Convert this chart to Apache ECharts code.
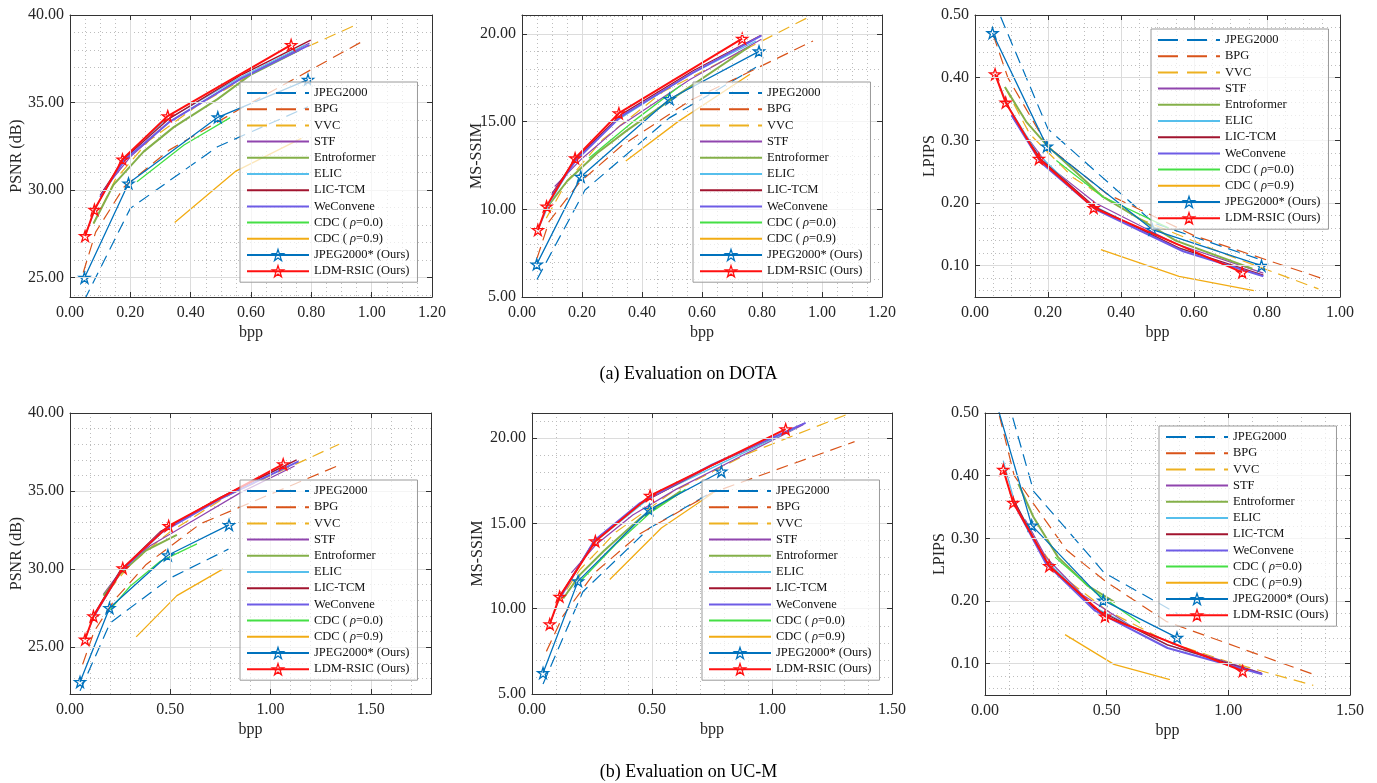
<!DOCTYPE html>
<html><head><meta charset="utf-8">
<script src="https://cdn.jsdelivr.net/npm/echarts@6/dist/echarts.min.js"></script>
<style>html,body{margin:0;padding:0;background:#fff}#c{width:1377px;height:783px}</style>
</head><body><div id="c"></div>
<script>
// ---------------- DATA ----------------
const SERIES_NAMES = ['JPEG2000','BPG','VVC','STF','Entroformer','ELIC','LIC-TCM','WeConvene','CDC (ρ=0.0)','CDC (ρ=0.9)','JPEG2000* (Ours)','LDM-RSIC (Ours)'];

// each panel: one [bpp, value] list per series, in SERIES_NAMES order
const DOTA_PSNR = [
  [[0.047,23.7],[0.200,28.96],[0.489,32.48],[0.789,34.76]],
  [[0.044,25.3],[0.085,27.6],[0.18,30.2],[0.33,32.3],[0.58,34.8],[0.97,38.5]],
  [[0.078,28.1],[0.15,30.6],[0.26,32.8],[0.42,34.8],[0.66,37.2],[0.956,39.5]],
  [[0.111,30.0],[0.2,31.9],[0.33,33.9],[0.56,36.3],[0.794,38.4]],
  [[0.078,28.1],[0.144,30.3],[0.244,32.2],[0.344,33.6],[0.489,35.2],[0.6,36.6],[0.76,38.0]],
  [[0.05,27.4],[0.088,29.1],[0.17,31.6],[0.31,33.9],[0.56,36.4],[0.78,38.3]],
  [[0.1,29.7],[0.18,31.8],[0.33,34.1],[0.57,36.6],[0.798,38.57]],
  [[0.1,29.6],[0.18,31.7],[0.33,33.9],[0.57,36.4],[0.794,38.3]],
  [[0.222,30.48],[0.378,32.58],[0.531,34.14]],
  [[0.347,28.16],[0.55,31.09],[0.767,32.96]],
  [[0.048,25.0],[0.194,30.39],[0.49,34.16],[0.789,36.31]],
  [[0.05,27.38],[0.081,28.88],[0.174,31.76],[0.324,34.23],[0.733,38.29]]
];
const DOTA_MSSSIM = [
  [[0.05,6.0],[0.21,11.1],[0.49,15.2],[0.78,18.1]],
  [[0.05,7.2],[0.09,9.3],[0.19,11.5],[0.33,13.6],[0.56,16.2],[0.97,19.6]],
  [[0.081,9.5],[0.15,11.6],[0.27,14.0],[0.47,16.7],[0.72,18.9],[0.96,21.0]],
  [[0.109,11.3],[0.2,12.9],[0.33,14.8],[0.56,17.4],[0.798,19.7]],
  [[0.087,10.2],[0.15,11.6],[0.25,13.2],[0.35,14.5],[0.5,16.3],[0.76,19.3]],
  [[0.053,8.8],[0.09,10.3],[0.17,12.6],[0.31,15.0],[0.55,17.6],[0.78,19.6]],
  [[0.1,10.9],[0.18,12.9],[0.33,15.4],[0.57,17.9],[0.798,19.94]],
  [[0.1,10.8],[0.18,12.8],[0.33,15.3],[0.57,17.8],[0.798,19.9]],
  [[0.223,12.91],[0.37,15.0],[0.531,17.09]],
  [[0.346,12.76],[0.52,15.0],[0.76,17.7]],
  [[0.049,6.86],[0.196,11.86],[0.492,16.29],[0.79,19.01]],
  [[0.053,8.82],[0.082,10.17],[0.177,12.91],[0.323,15.48],[0.734,19.73]]
];
const DOTA_LPIPS = [
  [[0.05,0.525],[0.2,0.318],[0.49,0.168],[0.79,0.108]],
  [[0.05,0.468],[0.09,0.40],[0.2,0.29],[0.36,0.215],[0.6,0.148],[0.959,0.078]],
  [[0.082,0.385],[0.15,0.31],[0.27,0.24],[0.45,0.175],[0.7,0.115],[0.941,0.063]],
  [[0.111,0.33],[0.2,0.26],[0.33,0.2],[0.55,0.135],[0.79,0.088]],
  [[0.082,0.385],[0.14,0.33],[0.2,0.29],[0.35,0.21],[0.55,0.14],[0.76,0.095]],
  [[0.055,0.405],[0.09,0.355],[0.17,0.28],[0.31,0.2],[0.55,0.13],[0.78,0.085]],
  [[0.1,0.34],[0.18,0.27],[0.33,0.193],[0.56,0.128],[0.79,0.085]],
  [[0.1,0.34],[0.18,0.265],[0.33,0.19],[0.57,0.123],[0.79,0.083]],
  [[0.223,0.268],[0.35,0.21],[0.531,0.16]],
  [[0.345,0.1256],[0.559,0.083],[0.764,0.06]],
  [[0.048,0.4712],[0.197,0.2904],[0.486,0.1576],[0.785,0.10]],
  [[0.055,0.4056],[0.084,0.3603],[0.175,0.2707],[0.325,0.1923],[0.732,0.0893]]
];
const UCM_PSNR = [
  [[0.05,22.2],[0.2,26.55],[0.5,29.43],[0.79,31.28]],
  [[0.063,23.9],[0.12,26.0],[0.22,28.0],[0.38,30.3],[0.65,32.9],[1.35,36.7]],
  [[0.1,26.5],[0.18,28.4],[0.3,30.3],[0.5,32.4],[0.8,34.8],[1.342,38.0]],
  [[0.167,28.4],[0.26,30.0],[0.4,31.5],[0.6,33.0],[0.85,34.9],[1.12,36.6]],
  [[0.167,28.3],[0.25,29.7],[0.38,31.2],[0.533,32.2]],
  [[0.075,25.5],[0.12,27.0],[0.26,30.0],[0.49,32.7],[0.8,34.9],[1.1,36.8]],
  [[0.12,27.1],[0.25,29.9],[0.45,32.4],[0.75,34.6],[1.13,37.0]],
  [[0.12,27.0],[0.25,29.8],[0.45,32.3],[0.75,34.5],[1.14,36.9]],
  [[0.2,27.4],[0.3,28.9],[0.45,30.5],[0.633,31.62]],
  [[0.33,25.66],[0.533,28.3],[0.762,30.0]],
  [[0.05,22.77],[0.197,27.51],[0.488,30.89],[0.793,32.83]],
  [[0.075,25.49],[0.117,26.98],[0.263,30.06],[0.492,32.77],[1.063,36.72]]
];
const UCM_MSSSIM = [
  [[0.046,5.58],[0.212,11.0],[0.49,14.74],[0.77,17.0]],
  [[0.06,7.5],[0.13,9.6],[0.26,12.1],[0.45,14.4],[0.75,16.8],[1.344,19.8]],
  [[0.1,10.2],[0.2,12.3],[0.35,14.5],[0.58,16.8],[0.9,19.1],[1.324,21.46]],
  [[0.164,12.1],[0.27,13.8],[0.42,15.5],[0.6,17.0],[0.85,18.8],[1.13,20.8]],
  [[0.13,10.6],[0.2,12.0],[0.3,13.4],[0.45,15.3],[0.62,16.9]],
  [[0.074,9.1],[0.12,10.8],[0.26,13.9],[0.49,16.5],[0.8,18.6],[1.1,20.6]],
  [[0.12,10.8],[0.26,14.0],[0.45,16.15],[0.75,18.4],[1.136,20.88]],
  [[0.12,10.7],[0.26,14.0],[0.45,16.2],[0.75,18.45],[1.14,20.9]],
  [[0.2,11.6],[0.35,13.8],[0.49,15.6],[0.64,17.0]],
  [[0.324,11.72],[0.539,14.74],[0.754,16.79]],
  [[0.046,6.23],[0.192,11.62],[0.489,15.81],[0.789,18.05]],
  [[0.074,9.09],[0.115,10.71],[0.264,13.96],[0.492,16.63],[1.057,20.53]]
];
const UCM_LPIPS = [
  [[0.05,0.58],[0.2,0.375],[0.49,0.245],[0.79,0.18]],
  [[0.059,0.496],[0.12,0.40],[0.2,0.355],[0.336,0.281],[0.5,0.23],[0.747,0.167],[1.349,0.083]],
  [[0.2,0.3],[0.3,0.245],[0.5,0.185],[0.75,0.135],[1.0,0.103],[1.349,0.0654]],
  [[0.165,0.33],[0.25,0.27],[0.4,0.21],[0.6,0.16],[0.85,0.12],[1.137,0.085]],
  [[0.137,0.387],[0.199,0.334],[0.3,0.27],[0.42,0.225],[0.534,0.198]],
  [[0.075,0.424],[0.12,0.36],[0.25,0.265],[0.45,0.19],[0.75,0.13],[1.1,0.088]],
  [[0.12,0.36],[0.25,0.262],[0.45,0.188],[0.75,0.13],[1.137,0.084]],
  [[0.12,0.355],[0.25,0.26],[0.45,0.185],[0.75,0.125],[1.14,0.083]],
  [[0.288,0.27],[0.45,0.215],[0.637,0.165]],
  [[0.329,0.1463],[0.53,0.0989],[0.76,0.0745]],
  [[0.046,0.517],[0.192,0.3207],[0.486,0.201],[0.789,0.1415]],
  [[0.075,0.4096],[0.116,0.357],[0.264,0.2559],[0.493,0.1755],[1.059,0.0883]]
];
const CAPTIONS = ['(a) Evaluation on DOTA', '(b) Evaluation on UC-M'];

// ---------------- STYLE / LAYOUT ----------------
const FONT = 'Liberation Serif';
const STAR = 'path://M50,2 L61.8,37.6 L99,37.6 L68.9,59.6 L80.4,95 L50,73.2 L19.6,95 L31.1,59.6 L1,37.6 L38.2,37.6 Z';
const STYLES = [
  {color:'#0072BD', width:1.2, dash:true},
  {color:'#D95319', width:1.2, dash:true},
  {color:'#EDB120', width:1.2, dash:true},
  {color:'#9045AE', width:1.2},
  {color:'#84B049', width:2},
  {color:'#56BFEC', width:1.2},
  {color:'#A2142F', width:1.3},
  {color:'#6E5CE6', width:2},
  {color:'#45DF45', width:1.3},
  {color:'#F2AC14', width:1.3},
  {color:'#0072BD', width:1.3, star:true},
  {color:'#FF1010', width:2, star:true}
];

const PANELS = [
  {data:DOTA_PSNR,   left:70,  top:15,  width:362, height:282, x:[0,1.2,0.2,0.05], y:[23.9,40,5,1],      yName:'PSNR (dB)', yGap:45, lg:[240,82]},
  {data:DOTA_MSSSIM, left:522, top:15,  width:360, height:282, x:[0,1.2,0.2,0.05], y:[5,21.08,5,1],      yName:'MS-SSIM',   yGap:37, lg:[693,82]},
  {data:DOTA_LPIPS,  left:975, top:15,  width:365, height:282, x:[0,1.0,0.2,0.05], y:[0.05,0.5,0.1,0.02], yName:'LPIPS',    yGap:37, lg:[1151,29]},
  {data:UCM_PSNR,    left:70,  top:413, width:361, height:281, x:[0,1.8,0.5,0.1],  y:[22,40,5,1],        yName:'PSNR (dB)', yGap:45, lg:[240,480]},
  {data:UCM_MSSSIM,  left:532, top:413, width:360, height:281, x:[0,1.5,0.5,0.1],  y:[5,21.48,5,1],      yName:'MS-SSIM',   yGap:46, lg:[702,480]},
  {data:UCM_LPIPS,   left:985, top:413, width:365, height:282, x:[0,1.5,0.5,0.1],  y:[0.05,0.5,0.1,0.02], yName:'LPIPS',    yGap:37, lg:[1159,426]}
];

const AX_COLOR = '#333333';
const isMult = (v, step) => Math.abs(v/step - Math.round(v/step)) < 1e-6;

const grid = [], xAxis = [], yAxis = [], series = [], legend = [];

PANELS.forEach((p, g) => {
  grid.push({left:p.left, top:p.top, width:p.width, height:p.height, containLabel:false, outerBoundsMode:'none', show:false});
  const [xmin,xmax,xmaj,xmin2] = p.x;
  const [ymin,ymax,ymaj,ymin2] = p.y;
  const labelCommon = {fontFamily:FONT, fontSize:16, color:'#262626', formatter: v => v.toFixed(2)};
  xAxis.push({type:'value', gridIndex:g, position:'bottom', min:xmin, max:xmax, minInterval:xmaj, maxInterval:xmaj,
    name:'bpp', nameLocation:'middle', nameGap:28, nameMoveOverlap:false, nameTextStyle:{fontFamily:FONT, fontSize:16, color:'#262626'},
    axisLine:{show:true, onZero:false, lineStyle:{color:AX_COLOR, width:1}},
    axisTick:{show:true, inside:true, length:5, lineStyle:{color:AX_COLOR}},
    axisLabel:Object.assign({margin:8, showMinLabel:isMult(xmin,xmaj), showMaxLabel:isMult(xmax,xmaj)}, labelCommon),
    splitLine:{show:true, lineStyle:{color:'#dcdcdc', width:1}}, z:3});
  xAxis.push({type:'value', gridIndex:g, position:'top', min:xmin, max:xmax, minInterval:xmaj, maxInterval:xmaj,
    axisLine:{show:true, onZero:false, lineStyle:{color:AX_COLOR, width:1}},
    axisTick:{show:true, inside:true, length:5, lineStyle:{color:AX_COLOR}},
    axisLabel:{show:false}, splitLine:{show:false}, z:3});
  xAxis.push({type:'value', gridIndex:g, position:'bottom', min:xmin, max:xmax, minInterval:xmin2, maxInterval:xmin2,
    axisLine:{show:false}, axisTick:{show:false}, axisLabel:{show:false},
    splitLine:{show:true, lineStyle:{color:'#bdbdbd', width:1, type:[1,3]}}, z:1});
  yAxis.push({type:'value', gridIndex:g, position:'left', min:ymin, max:ymax, minInterval:ymaj, maxInterval:ymaj,
    name:p.yName, nameLocation:'middle', nameGap:p.yGap, nameMoveOverlap:false, nameTextStyle:{fontFamily:FONT, fontSize:16, color:'#262626'},
    axisLine:{show:true, onZero:false, lineStyle:{color:AX_COLOR, width:1}},
    axisTick:{show:true, inside:true, length:5, lineStyle:{color:AX_COLOR}},
    axisLabel:Object.assign({margin:6, showMinLabel:isMult(ymin,ymaj), showMaxLabel:isMult(ymax,ymaj)}, labelCommon),
    splitLine:{show:true, lineStyle:{color:'#dcdcdc', width:1}}, z:3});
  yAxis.push({type:'value', gridIndex:g, position:'right', min:ymin, max:ymax, minInterval:ymaj, maxInterval:ymaj,
    axisLine:{show:true, onZero:false, lineStyle:{color:AX_COLOR, width:1}},
    axisTick:{show:true, inside:true, length:5, lineStyle:{color:AX_COLOR}},
    axisLabel:{show:false}, splitLine:{show:false}, z:3});
  yAxis.push({type:'value', gridIndex:g, position:'left', min:ymin, max:ymax, minInterval:ymin2, maxInterval:ymin2,
    axisLine:{show:false}, axisTick:{show:false}, axisLabel:{show:false},
    splitLine:{show:true, lineStyle:{color:'#bdbdbd', width:1, type:[1,3]}}, z:1});

  SERIES_NAMES.forEach((name, i) => {
    const st = STYLES[i];
    series.push({
      type:'line', name, xAxisIndex:3*g, yAxisIndex:3*g, data:p.data[i],
      symbol: st.star ? STAR : 'none', symbolSize: 11, showSymbol: !!st.star,
      lineStyle:{color:st.color, width:st.width, type: st.dash ? [12,7] : 'solid'},
      itemStyle:{color:'rgba(255,255,255,0)', borderColor:st.color, borderWidth:1.3},
      emphasis:{disabled:true}, silent:true, animation:false, clip:true, z: 2 + i*0.01
    });
  });

  legend.push({
    orient:'vertical', left:p.lg[0], top:p.lg[1], itemWidth:62, itemHeight:14, itemGap:2.2,
    padding:[4,8,4,6], borderColor:'#9a9a9a', borderWidth:1, borderRadius:0,
    backgroundColor:'rgba(255,255,255,0.7)', selectedMode:false, z:10,
    textStyle:{fontFamily:FONT, fontSize:12.5, color:'#111', lineHeight:14,
      rich:{i:{fontFamily:FONT, fontSize:12.5, fontStyle:'italic', color:'#111', lineHeight:14}}},
    formatter: n => n.replace('(ρ', '( {i|ρ}'),
    data: SERIES_NAMES.map((n, i) => {
      const st = STYLES[i];
      const item = {name:n};
      if (st.star) item.itemStyle = {color:'rgba(255,255,255,0)', borderColor:st.color, borderWidth:1.3};
      else item.itemStyle = {opacity:0};
      if (st.dash) item.lineStyle = {type:[20,9]};
      return item;
    })
  });
});

const title = CAPTIONS.map((t, k) => ({
  text:t, left:'center', top: k === 0 ? 360 : 758,
  textStyle:{fontFamily:FONT, fontSize:18, fontWeight:'normal', color:'#000'}
}));

const chart = echarts.init(document.getElementById('c'), null, {renderer:'canvas'});
chart.setOption({animation:false, backgroundColor:'#fff', title, grid, xAxis, yAxis, series, legend});
</script></body></html>
